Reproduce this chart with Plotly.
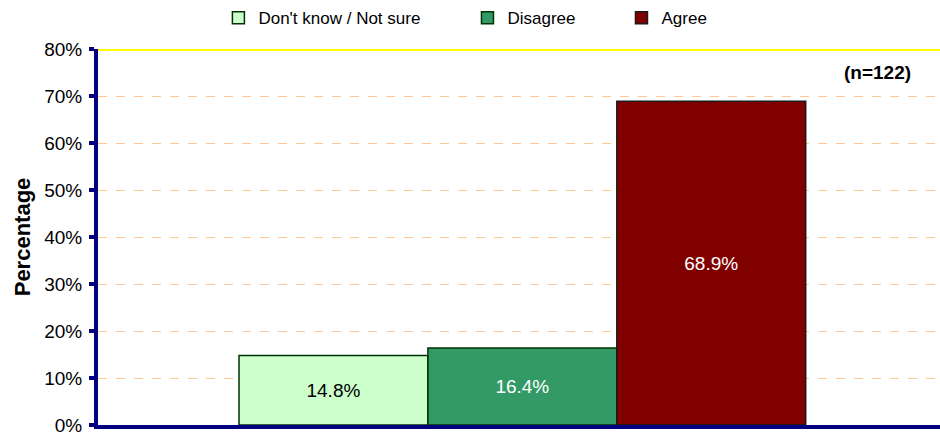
import plotly.graph_objects as go

# Survey responses (n=122)
category = ["All respondents"]
responses = ["Don't know / Not sure", "Disagree", "Agree"]
percentages = [14.8, 16.4, 68.9]
fill_colors = ["#CCFFCC", "#339966", "#800000"]
edge_colors = ["#003300", "#003300", "#1A1A1A"]
label_colors = ["#000000", "#FFFFFF", "#FFFFFF"]
legend_ids = ["legend", "legend2", "legend3"]
y_ticks = [0, 10, 20, 30, 40, 50, 60, 70, 80]
sample_note = "(n=122)"

FONT = "Arial, Liberation Sans, sans-serif"
NAVY = "#000080"

fig = go.Figure()
for name, val, fc, ec, lc, lg in zip(responses, percentages, fill_colors,
                                     edge_colors, label_colors, legend_ids):
    fig.add_trace(go.Bar(
        x=category, y=[val], name=name, legend=lg,
        marker=dict(color=fc, line=dict(color=ec, width=1.5)),
        text=[f"{val:.1f}%"], textposition="inside",
        insidetextanchor="middle",
        textfont=dict(family=FONT, size=19, color=lc),
        constraintext="none",
    ))

legend_common = dict(orientation="h", xref="paper", yref="paper",
                     xanchor="left", yanchor="middle", y=1.082,
                     font=dict(family=FONT, size=17, color="#000000"),
                     bgcolor="rgba(0,0,0,0)", borderwidth=0)

fig.update_layout(
    width=940, height=433,
    margin=dict(l=98, r=0, t=49, b=8, autoexpand=False),
    paper_bgcolor="white", plot_bgcolor="white",
    barmode="group", bargap=0.327, bargroupgap=0,
    showlegend=True,
    legend=dict(x=0.143, **legend_common),
    legend2=dict(x=0.4388, **legend_common),
    legend3=dict(x=0.6217, **legend_common),
    font=dict(family=FONT, color="#000000"),
    xaxis=dict(range=[-0.504, 0.496], showticklabels=False, ticks="",
               showgrid=False, zeroline=False, automargin=False,
               showline=True, linecolor=NAVY, linewidth=4),
    yaxis=dict(range=[0, 80], tickvals=y_ticks,
               ticktext=[f"{t}%" for t in y_ticks],
               tickfont=dict(family=FONT, size=19, color="#000000"),
               ticks="outside", ticklen=5, tickwidth=4, tickcolor=NAVY,
               ticklabelstandoff=3, ticklabeloverflow="allow",
               automargin="left",
               showline=True, linecolor=NAVY, linewidth=4,
               showgrid=True, gridcolor="#FFC890", gridwidth=1,
               griddash="dash", zeroline=False,
               title=dict(text="<b>Percentage</b>", standoff=8,
                          font=dict(family=FONT, size=22, color="#000000"))),
    annotations=[dict(text=f"<b>{sample_note}</b>", xref="paper", yref="paper",
                      x=0.926, y=0.9365, xanchor="center", yanchor="middle",
                      showarrow=False,
                      font=dict(family=FONT, size=19, color="#000000"))],
    shapes=[dict(type="line", xref="paper", yref="y", x0=0, x1=1,
                 y0=80, y1=80, line=dict(color="#FFFF00", width=4),
                 layer="above")],
)

fig.write_html("out.html")
